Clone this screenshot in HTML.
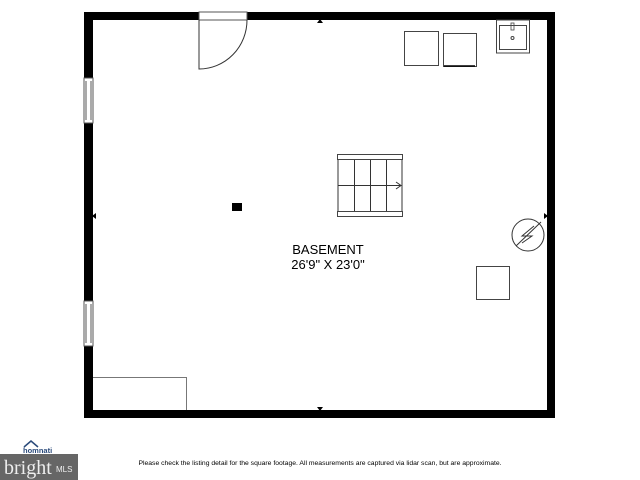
<!DOCTYPE html>
<html><head><style>
html,body{margin:0;padding:0;background:#fff;width:640px;height:480px;overflow:hidden}
</style></head><body>
<svg width="640" height="480" viewBox="0 0 640 480" xmlns="http://www.w3.org/2000/svg" font-family="Liberation Sans, sans-serif">
<rect width="640" height="480" fill="#fff"/>
<path d="M84 12 H555 V418 H84 Z M93 20 V410 H547 V20 Z" fill="#000" fill-rule="evenodd"/>
<rect x="199" y="12" width="48" height="8" fill="#fff" stroke="#555" stroke-width="1"/>
<path d="M199 20 V69 A48 49 0 0 0 247 20" fill="none" stroke="#333" stroke-width="1"/>
<rect x="84" y="78" width="9" height="45" fill="#fff" stroke="#555"/>
<line x1="86" y1="81" x2="86" y2="120" stroke="#555"/><line x1="91" y1="81" x2="91" y2="120" stroke="#555"/>
<rect x="84" y="301" width="9" height="45" fill="#fff" stroke="#555"/>
<line x1="86" y1="304" x2="86" y2="343" stroke="#555"/><line x1="91" y1="304" x2="91" y2="343" stroke="#555"/>
<path d="M317 23 L320 19 L323 23 Z" fill="#000"/>
<path d="M317 407 L320 411 L323 407 Z" fill="#000"/>
<path d="M96 213 L92 216 L96 219 Z" fill="#000"/>
<path d="M544 213 L548 216 L544 219 Z" fill="#000"/>
<rect x="404.5" y="31.5" width="34" height="34" fill="none" stroke="#444"/>
<rect x="443.5" y="33.5" width="33" height="33" fill="none" stroke="#444"/>
<line x1="444" y1="66" x2="475" y2="66" stroke="#000" stroke-width="1.5"/>
<rect x="496.5" y="20" width="33" height="33" fill="none" stroke="#444"/>
<rect x="499.5" y="25.5" width="27" height="24" fill="none" stroke="#444"/>
<rect x="511" y="23" width="3" height="7" fill="none" stroke="#444" stroke-width="0.8"/>
<circle cx="512.5" cy="38" r="1.5" fill="none" stroke="#444"/>
<rect x="337.5" y="154.5" width="65" height="5" fill="none" stroke="#444"/>
<rect x="337.5" y="211.5" width="65" height="5" fill="none" stroke="#444"/>
<g stroke="#333" fill="none">
<line x1="338" y1="160" x2="338" y2="211"/>
<line x1="354.5" y1="160" x2="354.5" y2="211"/>
<line x1="370.5" y1="160" x2="370.5" y2="211"/>
<line x1="386.5" y1="160" x2="386.5" y2="211"/>
<line x1="402" y1="160" x2="402" y2="211"/>
<line x1="338" y1="185.5" x2="401" y2="185.5"/>
<path d="M396 182 L401 185.5 L396 189"/>
</g>
<rect x="232" y="203" width="10" height="8" fill="#000"/>
<circle cx="528" cy="235" r="16" fill="none" stroke="#333"/>
<line x1="516" y1="246" x2="541" y2="222" stroke="#333"/>
<path d="M534 226 L522 236 L532 236 L522 243" fill="none" stroke="#333"/>
<rect x="476.5" y="266.5" width="33" height="33" fill="none" stroke="#444"/>
<path d="M93 377.5 H186.5 V410" fill="none" stroke="#777"/>
<text x="328" y="254" font-size="13" text-anchor="middle" fill="#000">BASEMENT</text>
<text x="328" y="269" font-size="13" text-anchor="middle" fill="#000">26'9" X 23'0"</text>
<text x="320" y="465" font-size="6.8" text-anchor="middle" fill="#000">Please check the listing detail for the square footage. All measurements are captured via lidar scan, but are approximate.</text>
<rect x="0" y="454" width="78" height="26" fill="#666"/>
<text x="4" y="474" font-size="20" font-family="Liberation Serif, serif" fill="#eee">bright</text>
<text x="56" y="472" font-size="8" fill="#eee">MLS</text>
<path d="M24 447 L31 441 L38 447" fill="none" stroke="#2a4a7a" stroke-width="1.5"/>
<text x="23" y="453" font-size="7.5" font-weight="bold" fill="#2a4a7a">homnati</text>
</svg>
</body></html>
